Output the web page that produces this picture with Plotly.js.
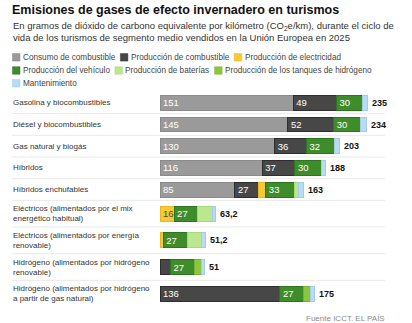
<!DOCTYPE html>
<html>
<head>
<meta charset="utf-8">
<script src="https://cdn.plot.ly/plotly-3.0.1.min.js"></script>
<style>
  html, body { margin: 0; padding: 0; background: #fff; }
  #chart { width: 412px; height: 323px; }
</style>
</head>
<body>
<div id="chart"></div>
<script>
// ---------- DATA ----------
const categories = [
  "Gasolina y biocombustibles",
  "Diésel y biocombustibles",
  "Gas natural y biogás",
  "Híbridos",
  "Híbridos enchufables",
  "Eléctricos (alimentados por el mix<br>energético habitual)",
  "Eléctricos (alimentados por energía<br>renovable)",
  "Hidrógeno (alimentados por hidrógeno<br>renovable)",
  "Hidrógeno (alimentados por hidrógeno<br>a partir de gas natural)"
];
const consumoCombustible   = [151, 145, 130, 116, 85, 0, 0, 0, 0];
const produccionCombustible = [49, 52, 36, 37, 27, 0, 0, 12, 136];
const produccionElectricidad = [0, 0, 0, 0, 8, 16, 3.7, 0, 0];
const produccionVehiculo   = [30, 30, 32, 30, 33, 27, 27, 27, 27];
const produccionBaterias   = [0, 0, 0, 0, 4, 16.5, 16.5, 0, 0];
const produccionTanques    = [0, 0, 0, 0, 0, 0, 0, 7.5, 8];
const mantenimiento        = [5, 7, 5, 5, 6, 3.7, 4, 4.5, 4];
const totales              = [235, 234, 203, 188, 163, 63.2, 51.2, 51, 175];

const seriesNames = [
  "Consumo de combustible",
  "Producción de combustible",
  "Producción de electricidad",
  "Producción del vehículo",
  "Producción de baterías",
  "Producción de los tanques de hidrógeno",
  "Mantenimiento"
];
const seriesValues = [consumoCombustible, produccionCombustible, produccionElectricidad,
  produccionVehiculo, produccionBaterias, produccionTanques, mantenimiento];

// ---------- STYLE ----------
const FONT = "Liberation Sans, Arial, sans-serif";
const colors     = ["#9a9a9a", "#474747", "#f7c937", "#3f8c2b", "#bde78e", "#8cc63f", "#b9dcf3"];
const lineColors = ["#8a8a8a", "#2e2e2e", "#e8b820", "#2f7420", "#a8d778", "#78b02f", "#a3cbe6"];
const textColors = ["#ffffff", "#ffffff", "#4a4a3a", "#ffffff", "#333", "#333", "#333"];
const labeled    = [true, true, true, true, false, false, false];

const W = 412, H = 323;
const M = { l: 160, r: 27, t: 92, b: 16 };
const PW = W - M.l - M.r, PH = H - M.t - M.b;
const px2x = p => (p - M.l) / PW;
const px2y = p => (H - M.b - p) / PH;

// row layout derived from number of label lines
const rowH = categories.map(c => c.split("<br>").length > 1 ? 1.23 : 1);
const centers = [], bounds = [];
let acc = 0;
rowH.forEach((h, i) => { centers.push(acc + h / 2); acc += h; if (i < rowH.length - 1) bounds.push(acc); });
const totalH = acc;

const fmt = v => String(v).replace(".", ",");

const traces = seriesValues.map((vals, s) => ({
  type: "bar",
  orientation: "h",
  name: seriesNames[s],
  y: centers,
  x: vals.map(v => v === 0 ? null : v),
  width: 0.69,
  marker: { color: colors[s], line: { color: lineColors[s], width: 1 } },
  text: vals.map(v => (labeled[s] && v >= 15) ? fmt(v) : ""),
  textposition: "inside",
  insidetextanchor: "start",
  textangle: 0,
  constraintext: "none",
  textfont: { family: FONT, size: 9.5, color: textColors[s] },
  hoverinfo: "skip",
  showlegend: false
}));

const annotations = [];
const shapes = [];

// totals
totales.forEach((v, i) => {
  annotations.push({
    xref: "x", yref: "y", x: v, y: centers[i],
    xanchor: "left", yanchor: "middle", xshift: 3.5, showarrow: false, borderpad: 0,
    text: "<b>" + fmt(v) + "</b>",
    font: { family: FONT, size: 9, color: "#111" }
  });
});

// category labels
categories.forEach((c, i) => {
  annotations.push({
    xref: "paper", yref: "y", x: px2x(12), y: centers[i],
    xanchor: "left", yanchor: "middle", align: "left",
    text: c, showarrow: false, borderpad: 0,
    font: { family: FONT, size: 8, color: "#333" }
  });
});

// separators
bounds.forEach(b => {
  shapes.push({ type: "line", xref: "paper", yref: "y", x0: px2x(12), x1: px2x(385), y0: b, y1: b,
    line: { color: "#e9e9e9", width: 1 } });
});

// subtitle
annotations.push({
  xref: "paper", yref: "paper", x: px2x(12), y: px2y(19),
  xanchor: "left", yanchor: "top", align: "left", showarrow: false, borderpad: 0,
  text: "En gramos de dióxido de carbono equivalente por kilómetro (CO<sub>2</sub>e/km), durante el ciclo de<br>vida de los turismos de segmento medio vendidos en la Unión Europea en 2025",
  font: { family: FONT, size: 9.5, color: "#333" }
});

// legend (custom flow layout)
const ctx = document.createElement("canvas").getContext("2d");
const LFS = 8.2;
ctx.font = LFS + "px " + FONT;
const legendRows = [[0, 1, 2], [3, 4, 5], [6]];
const legendY = [57.3, 70.5, 83.3];
legendRows.forEach((row, r) => {
  let x = 12.5;
  row.forEach(s => {
    const cy = legendY[r];
    shapes.push({ type: "rect", xref: "paper", yref: "paper",
      x0: px2x(x), x1: px2x(x + 7.5), y0: px2y(cy + 3.75), y1: px2y(cy - 3.75),
      fillcolor: colors[s], line: { color: lineColors[s], width: 0.5 } });
    annotations.push({ xref: "paper", yref: "paper", x: px2x(x + 9.5), y: px2y(cy),
      xanchor: "left", yanchor: "middle", showarrow: false, borderpad: 0,
      text: seriesNames[s], font: { family: FONT, size: LFS, color: "#444" } });
    x += 9.5 + ctx.measureText(seriesNames[s]).width + 6;
  });
});

// source
annotations.push({
  xref: "paper", yref: "paper", x: px2x(386), y: px2y(318.5),
  xanchor: "right", yanchor: "middle", showarrow: false, borderpad: 0,
  text: "Fuente ICCT. EL PAÍS", font: { family: FONT, size: 8, color: "#8a8a8a" }
});

const layout = {
  width: W, height: H,
  margin: M,
  paper_bgcolor: "#fff", plot_bgcolor: "#fff",
  barmode: "stack",
  bargap: 0,
  title: {
    text: "<b>Emisiones de gases de efecto invernadero en turismos</b>",
    xref: "container", yref: "container", x: 12 / W, xanchor: "left",
    y: 1 - 10 / H, yanchor: "middle",
    font: { family: FONT, size: 12.5, color: "#111" }
  },
  xaxis: { range: [0, PW / 0.882], visible: false, fixedrange: true },
  yaxis: { range: [totalH, 0], visible: false, fixedrange: true },
  showlegend: false,
  annotations: annotations,
  shapes: shapes,
  font: { family: FONT }
};

Plotly.newPlot("chart", traces, layout, { displayModeBar: false, staticPlot: true });
</script>
</body>
</html>
